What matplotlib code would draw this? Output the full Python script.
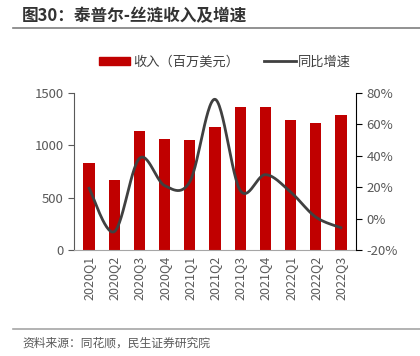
import numpy as np
import matplotlib.pyplot as plt
from matplotlib.lines import Line2D
from matplotlib.patches import Patch

plt.rcParams['font.family'] = ['Noto Sans CJK SC', 'DejaVu Sans']

quarters = ['2020Q1', '2020Q2', '2020Q3', '2020Q4', '2021Q1', '2021Q2',
            '2021Q3', '2021Q4', '2022Q1', '2022Q2', '2022Q3']
revenue = [828, 669, 1137, 1060, 1051, 1175, 1366, 1366, 1245, 1217, 1290]
growth = [19.3, -8.3, 38.4, 21.0, 23.5, 76.0, 18.0, 28.0, 17.0, 1.0, -5.8]


def smooth(x, y, n=30):
    # catmull-rom style smoothing like excel's smoothed line
    x = np.asarray(x, float)
    y = np.asarray(y, float)
    px = np.concatenate([[x[0]], x, [x[-1]]])
    py = np.concatenate([[y[0]], y, [y[-1]]])
    xs, ys = [], []
    t = np.linspace(0, 1, n)
    for i in range(1, len(px) - 2):
        p0, p1, p2, p3 = (np.array([px[j], py[j]]) for j in range(i - 1, i + 3))
        c1 = p1 + (p2 - p0) / 6
        c2 = p2 - (p3 - p1) / 6
        pts = ((1 - t) ** 3)[:, None] * p1 + (3 * (1 - t) ** 2 * t)[:, None] * c1 \
            + (3 * (1 - t) * t ** 2)[:, None] * c2 + (t ** 3)[:, None] * p2
        xs.extend(pts[:, 0])
        ys.extend(pts[:, 1])
    return np.array(xs), np.array(ys)


fig = plt.figure(figsize=(4.2, 3.56), dpi=100)
ax = fig.add_axes([74 / 420, 1 - 250 / 356, 282 / 420, 157 / 356])
x = np.arange(len(quarters))
ax.bar(x, revenue, width=0.45, color='#C00000', zorder=2)
ax.set_ylim(0, 1500)
ax.set_yticks([0, 500, 1000, 1500])
ax.set_xlim(-0.6, len(quarters) - 0.4)
ax.set_xticks(x)
ax.set_xticklabels(quarters, rotation=90, fontsize=9, color='#595959')
ax.tick_params(axis='y', labelsize=9.5, labelcolor='#595959', color='#595959', length=4, direction='out')
ax.tick_params(axis='x', length=0, pad=4)
ax.spines['top'].set_visible(False)
ax.spines['right'].set_visible(False)
ax.spines['left'].set_color('#595959')
ax.spines['bottom'].set_color('#A6A6A6')

ax2 = ax.twinx()
sx, sy = smooth(x, growth)
ax2.plot(sx, sy, color='#404040', lw=2, zorder=3)
ax2.set_ylim(-20, 80)
ax2.set_yticks([-20, 0, 20, 40, 60, 80])
ax2.set_yticklabels(['-20%', '0%', '20%', '40%', '60%', '80%'])
ax2.tick_params(axis='y', labelsize=9.5, labelcolor='#595959', color='black', length=4)
for s in ['top', 'left', 'bottom']:
    ax2.spines[s].set_visible(False)
ax2.spines['right'].set_color('black')

handles = [Patch(color='#C00000'), Line2D([], [], color='#404040', lw=2)]
fig.legend(handles, ['收入（百万美元）', '同比增速'], loc='center', bbox_to_anchor=(225 / 420, 1 - 62 / 356),
           ncol=2, frameon=False, fontsize=9.5, handlelength=2.4, handleheight=0.6,
           handletextpad=0.2, columnspacing=1.9, labelcolor='#404040')

fig.text(22 / 420, 1 - 16 / 356, '图30：泰普尔-丝涟收入及增速', fontsize=12, fontweight='bold',
         color='#333333', va='center')
fig.add_artist(Line2D([13 / 420, 1], [1 - 28 / 356] * 2, color='#7F7F7F', lw=1.2))
fig.add_artist(Line2D([13 / 420, 1], [1 - 329 / 356] * 2, color='#A6A6A6', lw=1.2))
fig.text(22 / 420, 1 - 343 / 356, '资料来源：同花顺，民生证券研究院', fontsize=8.5, color='#595959', va='center')

fig.savefig('out.png', dpi=100)
